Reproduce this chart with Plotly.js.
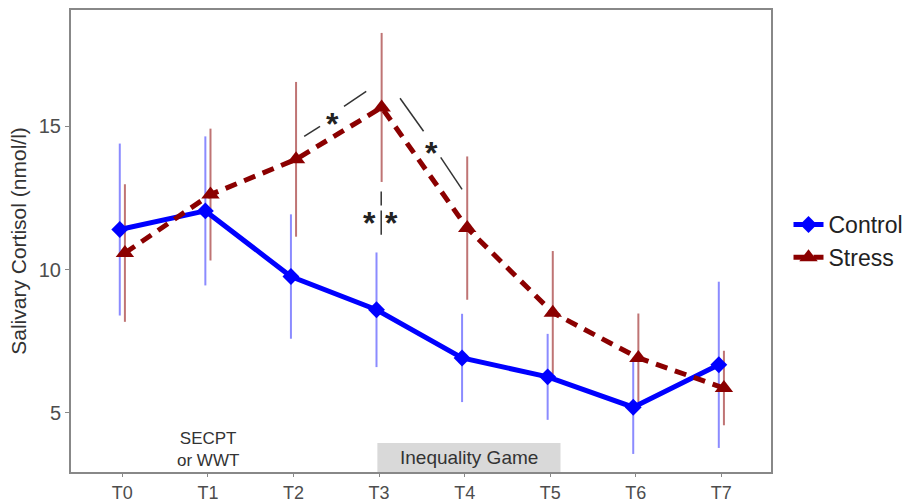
<!DOCTYPE html>
<html>
<head>
<meta charset="utf-8">
<script src="https://cdn.plot.ly/plotly-3.0.1.min.js"></script>
<style>html,body{margin:0;padding:0;background:#fff}#chart{width:919px;height:504px}</style>
</head>
<body>
<div id="chart"></div>
<script>
const timepoints = ["T0","T1","T2","T3","T4","T5","T6","T7"];
const controlMean = [11.4, 12.05, 9.76, 8.6, 6.92, 6.26, 5.2, 6.68];
const controlErr  = [3.0, 2.6, 2.17, 2.0, 1.54, 1.5, 1.63, 2.9];
const stressMean  = [10.58, 12.62, 13.85, 15.66, 11.45, 8.5, 6.92, 5.87];
const stressErr   = [2.4, 2.3, 2.7, 2.6, 2.5, 2.15, 1.55, 1.3];

const idx = timepoints.map((_, i) => i);
const xC = idx.map(i => i - 0.03);
const xS = idx.map(i => i + 0.03);

const FONT = 'Liberation Sans, Arial, sans-serif';

const traces = [
  {x: xC, y: controlMean, type: 'scatter', mode: 'markers', marker: {opacity: 0},
   error_y: {type: 'data', array: controlErr, visible: true, color: 'rgba(100,100,255,0.75)', thickness: 2, width: 0},
   showlegend: false, hoverinfo: 'skip'},
  {x: xS, y: stressMean, type: 'scatter', mode: 'markers', marker: {opacity: 0},
   error_y: {type: 'data', array: stressErr, visible: true, color: 'rgba(170,70,70,0.75)', thickness: 2, width: 0},
   showlegend: false, hoverinfo: 'skip'},
  {x: xC, y: controlMean, type: 'scatter', mode: 'lines+markers', name: 'Control',
   line: {color: '#0000ff', width: 5}, marker: {symbol: 'diamond', size: 13, color: '#0000ff'}},
  {x: xS, y: stressMean, type: 'scatter', mode: 'lines+markers', name: 'Stress',
   line: {color: '#8b0000', width: 5, dash: '12px,8px'}, marker: {symbol: 'triangle-up', size: 16, color: '#8b0000'}}
];

const segs = [
  [2.125, 14.65, 2.31, 15.0], [2.59, 15.7, 2.85, 16.22],
  [3.245, 15.98, 3.52, 14.83], [3.72, 13.92, 3.97, 12.8],
  [3.025, 12.73, 3.025, 12.24], [3.025, 12.06, 3.025, 11.22]
];
const shapes = segs.map(s => ({type: 'line', xref: 'x', yref: 'y', x0: s[0], y0: s[1], x1: s[2], y1: s[3],
  line: {color: '#333', width: 1.5}}));
shapes.push({type: 'rect', xref: 'x', yref: 'paper', x0: 2.98, x1: 5.12, y0: 0, y1: 0.063,
  fillcolor: '#d9d9d9', line: {width: 0}, layer: 'below'});

const star = (x, y) => ({x: x, y: y, xref: 'x', yref: 'y', text: '<b>*</b>', showarrow: false,
  font: {family: FONT, size: 32, color: '#222'}, yshift: -8});
const annotations = [
  star(2.46, 15.35), star(3.61, 14.34), star(2.89, 11.92), star(3.14, 11.92),
  {x: 1, y: 0.0, xref: 'x', yref: 'paper', yanchor: 'bottom', text: 'SECPT<br>or WWT', showarrow: false,
   font: {family: FONT, size: 17, color: '#333'}, yshift: 0},
  {x: 4.05, y: 0.031, xref: 'x', yref: 'paper', yanchor: 'middle', text: 'Inequality Game', showarrow: false,
   font: {family: FONT, size: 19, color: '#333'}}
];

const layout = {
  width: 919, height: 504,
  margin: {l: 71, r: 140, t: 10, b: 32},
  paper_bgcolor: '#fff', plot_bgcolor: '#fff',
  font: {family: FONT, color: '#4d4d4d'},
  xaxis: {range: [-0.6, 7.58], tickvals: idx, ticktext: timepoints, showgrid: false, zeroline: false,
    showline: true, mirror: true, linecolor: '#888', linewidth: 2, ticks: 'outside', ticklen: 3,
    tickcolor: '#888', tickfont: {size: 18, color: '#4d4d4d'}},
  yaxis: {range: [2.94, 19.06], tickvals: [5, 10, 15], showgrid: false, zeroline: false,
    showline: true, mirror: true, linecolor: '#888', linewidth: 2, ticks: 'outside', ticklen: 4,
    tickcolor: '#888', tickfont: {size: 20, color: '#4d4d4d'},
    title: {text: 'Salivary Cortisol (nmol/l)', font: {size: 21, color: '#333'}, standoff: 6}},
  legend: {x: 1.025, y: 0.5, xanchor: 'left', yanchor: 'middle', bgcolor: 'rgba(0,0,0,0)',
    font: {size: 23, color: '#222'}, itemwidth: 30, tracegroupgap: 0},
  shapes: shapes,
  annotations: annotations
};

Plotly.newPlot('chart', traces, layout, {displayModeBar: false, staticPlot: true});
</script>
</body>
</html>
